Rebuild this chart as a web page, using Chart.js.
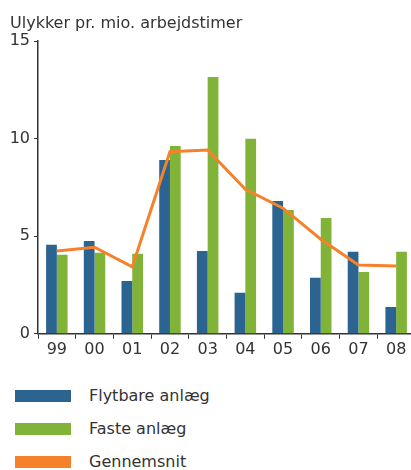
<!DOCTYPE html>
<html>
<head>
<meta charset="utf-8">
<script src="https://cdn.jsdelivr.net/npm/chart.js@4/dist/chart.umd.min.js"></script>
<style>
  html, body { margin: 0; padding: 0; background: #fff; overflow: hidden; width: 411px; height: 470px; }
  #wrap { position: absolute; left: 0; top: 0; width: 416px; height: 360px; }
  #legend { position: absolute; left: 15px; top: 379px; font-family: "DejaVu Sans", Verdana, sans-serif; font-size: 16px; color: #333; }
  .item { display: flex; align-items: center; height: 33px; }
  .box { width: 56px; height: 12px; margin-right: 18px; }
</style>
</head>
<body>
<div id="wrap"><canvas id="chart" width="416" height="360"></canvas></div>
<div id="legend"></div>
<script>
// --- DATA ---
const years = ["99", "00", "01", "02", "03", "04", "05", "06", "07", "08"];
const flytbare = [4.56, 4.76, 2.71, 8.91, 4.25, 2.10, 6.81, 2.87, 4.20, 1.38];
const faste = [4.05, 4.15, 4.10, 9.63, 13.16, 10.0, 6.35, 5.94, 3.17, 4.20];
const gennemsnit = [4.25, 4.44, 3.43, 9.33, 9.42, 7.41, 6.44, 4.85, 3.53, 3.48];
const yTicks = [0, 5, 10, 15];

const BLUE = "#2b6491";
const GREEN = "#80b337";
const ORANGE = "#f5822a";
const AXIS = "#333333";
const FONT = "'DejaVu Sans', Verdana, sans-serif";

const ctx = document.getElementById("chart").getContext("2d");
const chart = new Chart(ctx, {
  type: "bar",
  data: {
    labels: years,
    datasets: [
      { label: "Flytbare anlæg", data: flytbare, backgroundColor: BLUE, order: 1 },
      { label: "Faste anlæg", data: faste, backgroundColor: GREEN, order: 1 },
      {
        label: "Gennemsnit", type: "line", data: gennemsnit,
        borderColor: ORANGE, backgroundColor: ORANGE, borderWidth: 3,
        pointRadius: 0, tension: 0, fill: false, order: 0
      }
    ]
  },
  options: {
    responsive: false,
    animation: false,
    layout: { padding: { left: 10, right: 1, top: 0, bottom: 0 } },
    datasets: { bar: { categoryPercentage: 0.57, barPercentage: 1 } },
    plugins: {
      legend: { display: false },
      tooltip: { enabled: false },
      title: {
        display: true,
        text: "Ulykker pr. mio. arbejdstimer",
        align: "start",
        color: AXIS,
        font: { family: FONT, size: 16, weight: "normal" },
        padding: { top: 14, bottom: 8 }
      }
    },
    scales: {
      x: {
        grid: { display: true, offset: true, drawOnChartArea: false, drawTicks: true, tickLength: 5, color: AXIS, lineWidth: 1 },
        border: { display: true, color: AXIS, width: 1.5 },
        ticks: { color: AXIS, font: { family: FONT, size: 16 }, padding: 1, maxRotation: 0 }
      },
      y: {
        min: 0, max: 15,
        afterBuildTicks: (axis) => { axis.ticks = yTicks.map(v => ({ value: v })); },
        afterFit: (axis) => { axis.width = 28; },
        grid: { display: true, drawOnChartArea: false, drawTicks: true, tickLength: 4, color: AXIS, lineWidth: 1 },
        border: { display: true, color: AXIS, width: 1.5 },
        ticks: { color: AXIS, font: { family: FONT, size: 16 }, padding: 4 }
      }
    }
  }
});

// --- HTML LEGEND (one item per row) ---
const legendEl = document.getElementById("legend");
chart.data.datasets.forEach(ds => {
  const row = document.createElement("div");
  row.className = "item";
  const box = document.createElement("span");
  box.className = "box";
  box.style.background = ds.backgroundColor;
  const txt = document.createElement("span");
  txt.textContent = ds.label;
  row.appendChild(box);
  row.appendChild(txt);
  legendEl.appendChild(row);
});
</script>
</body>
</html>
